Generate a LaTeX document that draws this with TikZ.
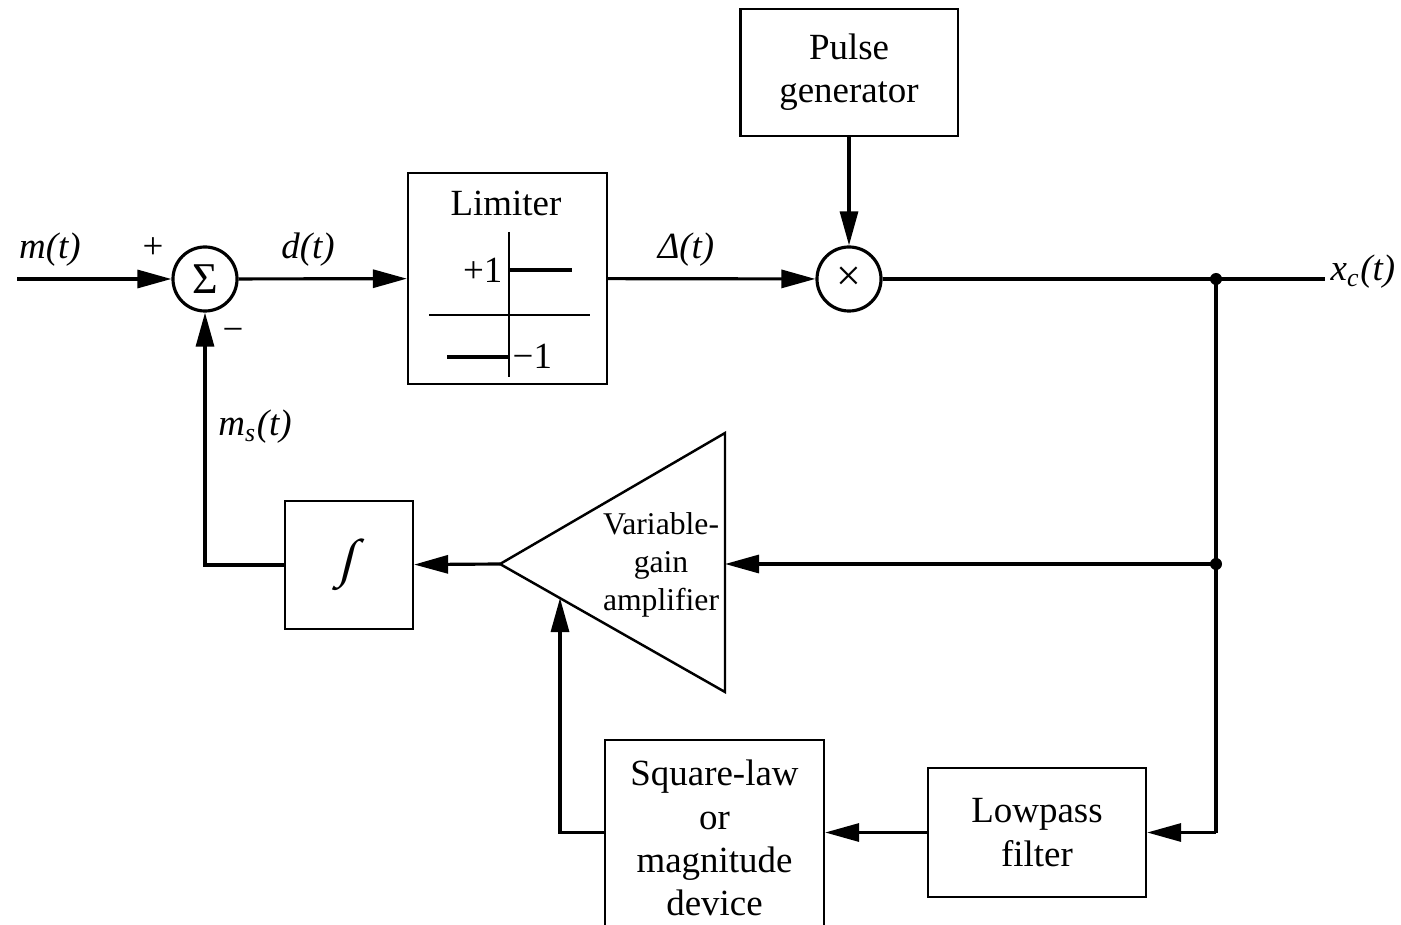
\documentclass[tikz,border=0pt]{standalone}
\usepackage{fontspec}
\setmainfont{Liberation Serif}
\usetikzlibrary{arrows.meta}
\begin{document}
\begin{tikzpicture}[x=0.01cm,y=-0.01cm,
  blk/.style={draw, line width=0.6pt, inner sep=0pt, align=center, font=\fontsize{10.5}{12.3}\selectfont},
  sig/.style={line width=0.9pt},
  arr/.style={sig, -{Triangle[length=0.34cm,width=0.18cm]}},
  junc/.style={circle, fill, inner sep=0pt, minimum size=0.12cm},
  opc/.style={draw, circle, line width=0.9pt, minimum size=0.64cm, inner sep=0pt, font=\fontsize{12.5}{14}\selectfont},
  lbl/.style={inner sep=0pt, font=\fontsize{10.5}{12}\selectfont},
  thin line/.style={line width=0.5pt},
  lvl/.style={line width=0.9pt}
]
\useasboundingbox (0,0) rectangle (1401,925);

% operators
\node[opc] (sum) at (205,279) {Σ};
\node[opc] (mul) at (849,279) {×};

% blocks
\node[blk, minimum width=1.99cm, minimum height=2.11cm] (lim) at (507.5,278.5) {};
\node[blk, minimum width=2.17cm, minimum height=1.27cm] (pulse) at (849,72.5) {Pulse\\generator};
\node[blk, minimum width=1.28cm, minimum height=1.28cm] (int) at (349,565) {};
\node[lbl, font=\fontsize{15}{15}\selectfont, xslant=0.25, transform shape] (intsym) at (int.center) {∫};
\node[blk, minimum width=2.18cm, minimum height=1.29cm] (lpf) at (1037,832.5) {Lowpass\\filter};
\node[blk, minimum width=2.19cm, minimum height=1.96cm] (sq) at (714.5,838) {Square-law\\or\\magnitude\\device};

% limiter interior
\node[lbl] (limtitle) at (506,203) {Limiter};
\node[lbl, anchor=east] (p1) at (503,270) {+1};
\node[lbl, anchor=west] (m1) at (512,356) {−1};
\draw[thin line] (509,232) -- (509,377);
\draw[thin line] (429,315) -- (590,315);
\draw[lvl] (509,270) -- (572,270);
\draw[lvl] (447,357) -- (509,357);

% amplifier
\coordinate (amptop) at (725,433);
\coordinate (ampbot) at (725,692);
\coordinate (ampapex) at (500,564);
\coordinate (ampin) at (725,564);
\coordinate (ampfb) at (560,598);
\draw[line width=0.7pt, line join=miter] (amptop) -- (ampapex) -- (ampbot) -- cycle;
\node[inner sep=0pt, align=center, font=\fontsize{9}{10.8}\selectfont] (amptext) at (661,565) {Variable-\\gain\\amplifier};

% junctions and free ends
\coordinate (in) at (17,279);
\coordinate (out) at (1325,279);
\node[junc] (j1) at (1216,279) {};
\node[junc] (j2) at (1216,564) {};
\coordinate (lpfturn) at (1216,832.5);

% connectors
\draw[arr] (in) -- (sum);
\draw[arr] (sum) -- (lim);
\draw[arr] (lim) -- (mul);
\draw[arr] (pulse) -- (mul);
\draw[sig] (mul) -- (out);
\draw[sig] (j1.center) -- (lpfturn);
\draw[arr] (j2.center) -- (ampin);
\draw[arr] (ampapex) -- (int);
\draw[arr] (int.west) -| (sum.south);
\draw[arr] (lpfturn) -- (lpf.east);
\draw[arr] (lpf.west) -- (lpf.west -| sq.east);
\draw[arr] (sq.west |- lpf.west) -| (ampfb);

% labels
\node[lbl] (lm) at (50,250) {\textit{m(t)}};
\node[lbl] (plus) at (153,248) {+};
\node[lbl] (minus) at (233,335) {−};
\node[lbl] (ld) at (308,250) {\textit{d(t)}};
\node[lbl] (lD) at (686,250) {\textit{Δ(t)}};
\node[lbl, anchor=west] (lx) at (1330,272) {\textit{x}\textsubscript{\textit{c}}\textit{(t)}};
\node[lbl] (lms) at (255,427) {\textit{m}\textsubscript{\textit{s}}\textit{(t)}};
\end{tikzpicture}
\end{document}
